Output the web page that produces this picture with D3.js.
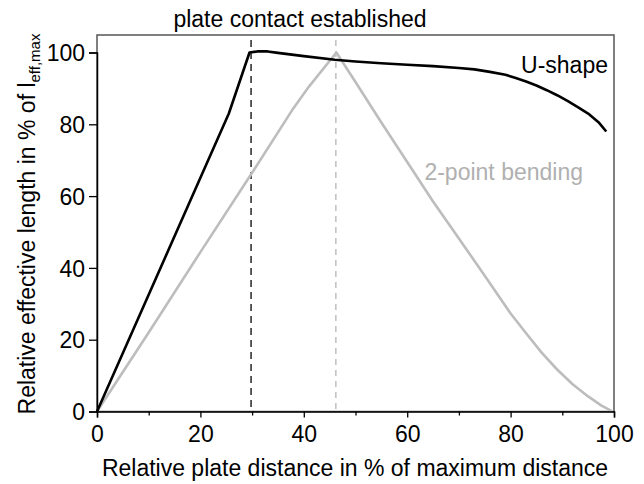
<!DOCTYPE html>
<html><head><meta charset="utf-8">
<script src="https://cdn.jsdelivr.net/npm/d3@7"></script>
<style>body{margin:0;background:#fff;}svg{display:block;font-family:"Liberation Sans",Arial,sans-serif;}</style>
</head><body>
<svg id="c" width="644" height="484"></svg>
<script>
const uShapeX = [0, 25.5, 29.5, 31, 33, 35, 40, 46, 50, 55, 60, 65, 70, 73, 76, 79, 81, 83, 85, 87, 89, 91, 93, 95, 97, 98.5];
const uShapeY = [0, 83, 100, 100.3, 100.3, 99.9, 99, 98, 97.5, 97, 96.6, 96.2, 95.7, 95.3, 94.6, 93.8, 92.9, 91.9, 90.8, 89.5, 88.1, 86.5, 84.8, 83, 80.6, 78];
const bendX = [0, 10, 20, 30, 38, 41, 46.3, 50, 55, 60, 65, 70, 75, 80, 83, 86, 89, 92, 95, 97.5, 99.5];
const bendY = [0, 22, 44.4, 66.5, 84.5, 90.5, 100, 91.8, 80.5, 69.5, 58.5, 48.2, 37.8, 27.3, 21.8, 16.4, 11.7, 7.6, 4.2, 1.7, 0.2];
const contactX = 29.8;
const peakX = 46.2;
const xTicks = [0, 20, 40, 60, 80, 100];
const xMinor = [10, 30, 50, 70, 90];
const yTicks = [0, 20, 40, 60, 80, 100];

const svg = d3.select("#c");
const x = d3.scaleLinear().domain([0, 100]).range([97, 614]);
const y = d3.scaleLinear().domain([0, 100]).range([411.5, 52.5]);
const yTop = 35;
const FS = 23;

svg.append("rect").attr("x", 97).attr("y", yTop).attr("width", 614 - 97).attr("height", 411.5 - yTop)
  .attr("fill", "none").attr("stroke", "#555").attr("stroke-width", 1.5);

svg.append("line").attr("x1", x(contactX)).attr("x2", x(contactX)).attr("y1", 40).attr("y2", 411)
  .attr("stroke", "#333").attr("stroke-width", 1.6).attr("stroke-dasharray", "7,5");
svg.append("line").attr("x1", x(peakX)).attr("x2", x(peakX)).attr("y1", 40).attr("y2", 411)
  .attr("stroke", "#bbb").attr("stroke-width", 1.4).attr("stroke-dasharray", "6,5");

const line = d3.line().x(d => x(d[0])).y(d => y(d[1]));
svg.append("path").datum(bendX.map((v, i) => [v, bendY[i]])).attr("d", line)
  .attr("fill", "none").attr("stroke", "#bdbdbd").attr("stroke-width", 2.6).attr("stroke-linejoin", "round");
svg.append("path").datum(uShapeX.map((v, i) => [v, uShapeY[i]])).attr("d", line)
  .attr("fill", "none").attr("stroke", "#000").attr("stroke-width", 2.6).attr("stroke-linejoin", "round");

const xAxis = svg.append("g").attr("transform", "translate(0,411.5)")
  .call(d3.axisBottom(x).tickValues(xTicks).tickSize(6).tickPadding(3).tickFormat(d3.format("d")));
svg.append("g").attr("transform", "translate(0,411.5)")
  .call(d3.axisBottom(x).tickValues(xMinor).tickSize(4).tickFormat(""))
  .call(g => g.select(".domain").remove());
const yAxis = svg.append("g").attr("transform", "translate(97,0)")
  .call(d3.axisLeft(y).tickValues(yTicks).tickSize(8).tickPadding(4).tickFormat(d3.format("d")));
svg.selectAll(".domain").attr("stroke", "#000").attr("stroke-width", 1.5);
svg.selectAll(".tick line").attr("stroke", "#000").attr("stroke-width", 1.3);
svg.selectAll(".tick text").attr("font-size", FS).attr("fill", "#000").attr("font-family", "Liberation Sans, Arial, sans-serif");
xAxis.selectAll(".tick text").attr("dy", "0.95em");
yAxis.selectAll(".tick text").attr("dy", "0.36em");

svg.append("text").attr("x", 300).attr("y", 27).attr("text-anchor", "middle").attr("font-size", FS)
  .text("plate contact established");
svg.append("text").attr("x", 608).attr("y", 73).attr("text-anchor", "end").attr("font-size", FS)
  .text("U-shape");
svg.append("text").attr("x", 583).attr("y", 180).attr("text-anchor", "end").attr("font-size", FS)
  .attr("fill", "#b0b0b0").text("2-point bending");
svg.append("text").attr("x", 355).attr("y", 476).attr("text-anchor", "middle").attr("font-size", FS)
  .text("Relative plate distance in % of maximum distance");
const yt = svg.append("text").attr("transform", "translate(35,224) rotate(-90)").attr("text-anchor", "middle").attr("font-size", FS);
yt.append("tspan").text("Relative effective length in % of l");
yt.append("tspan").attr("font-size", 15).attr("dy", 5).text("eff,max");
</script>
</body></html>
